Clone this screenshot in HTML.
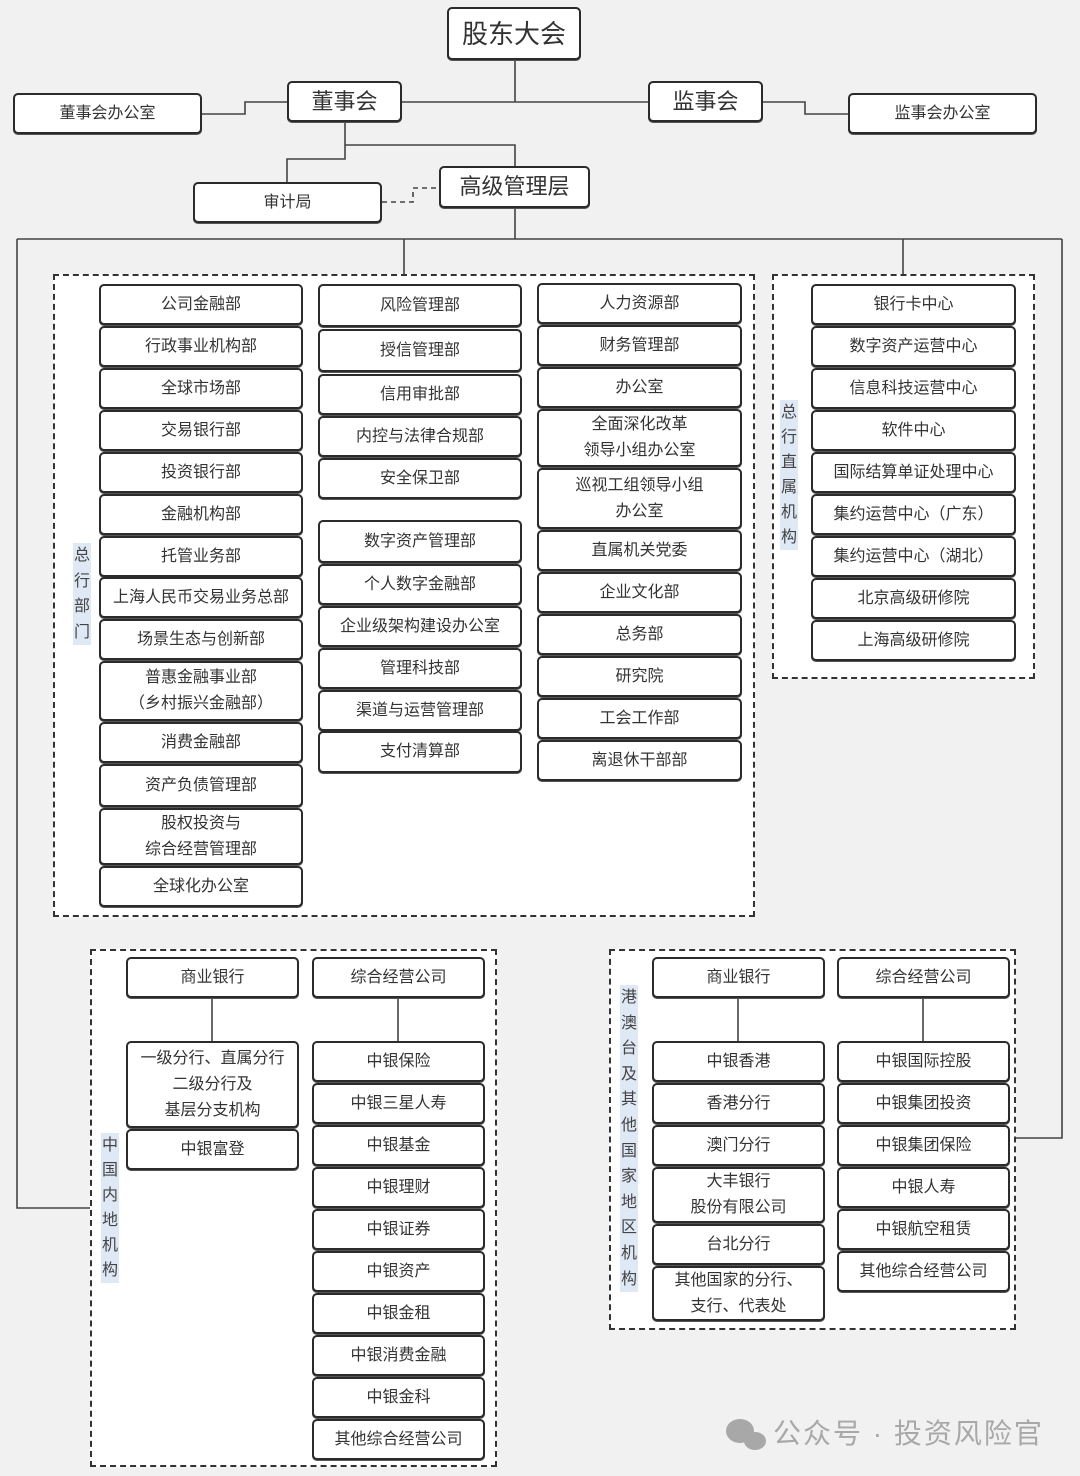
<!DOCTYPE html>
<html><head><meta charset="utf-8">
<style>
*{margin:0;padding:0}
body{width:1080px;height:1476px;background:#f1f1f1;position:relative;overflow:hidden;font-family:"Liberation Sans","Noto Sans CJK SC",sans-serif;color:#333}
.b{position:absolute;box-sizing:border-box;border:2px solid #2b2b2b;border-radius:5px;background:#fff;display:flex;align-items:center;justify-content:center;text-align:center;font-size:16px;line-height:26px;color:#333;box-shadow:0 1px 0 #555}
.d{position:absolute;box-sizing:border-box;border:2px dashed #333;background:#fff}
.v{position:absolute;width:18px;background:#dfe8f5;font-size:16px;text-align:center;color:#444}
svg{position:absolute;left:0;top:0}
</style></head><body>
<div class="d" style="left:53px;top:274px;width:702px;height:643px"></div>
<div class="d" style="left:772px;top:274px;width:263px;height:405px"></div>
<div class="d" style="left:90px;top:949px;width:407px;height:518px"></div>
<div class="d" style="left:609px;top:949px;width:407px;height:381px"></div>
<svg width="1080" height="1476" fill="none" stroke="#444" stroke-width="1.6">
<path d="M515 60V102M402 102H648M202 114H245V102H287M763 102H805V114H848"/>
<path d="M345 122V145H515V167M345 145V159H287V182"/>
<path d="M382 202H413V188H439" stroke-dasharray="5 4"/>
<path d="M515 208V239M17 239H1062M404 239V274M903 239V274M17 239V1208H90M1062 239V1138H1016"/>
<path d="M212 997V1041M398 997V1041M738 997V1041M923 997V1041"/>
</svg>
<div class="b" style="left:447px;top:7px;width:134px;height:53px;font-size:26px">股东大会</div>
<div class="b" style="left:287px;top:81px;width:115px;height:41px;font-size:22px">董事会</div>
<div class="b" style="left:648px;top:81px;width:115px;height:41px;font-size:22px">监事会</div>
<div class="b" style="left:13px;top:93px;width:189px;height:41px">董事会办公室</div>
<div class="b" style="left:848px;top:93px;width:189px;height:41px">监事会办公室</div>
<div class="b" style="left:193px;top:182px;width:189px;height:41px">审计局</div>
<div class="b" style="left:439px;top:166px;width:151px;height:42px;font-size:22px">高级管理层</div>

<div class="v" style="left:73px;top:543px;line-height:25.5px">总<br>行<br>部<br>门</div>
<div class="v" style="left:780px;top:400px;line-height:25px">总<br>行<br>直<br>属<br>机<br>构</div>
<div class="v" style="left:101px;top:1133px;line-height:25px">中<br>国<br>内<br>地<br>机<br>构</div>
<div class="v" style="left:620px;top:985px;line-height:25.6px">港<br>澳<br>台<br>及<br>其<br>他<br>国<br>家<br>地<br>区<br>机<br>构</div>

<div class="b" style="left:99px;top:284px;width:204px;height:41px">公司金融部</div>
<div class="b" style="left:99px;top:326px;width:204px;height:41px">行政事业机构部</div>
<div class="b" style="left:99px;top:368px;width:204px;height:41px">全球市场部</div>
<div class="b" style="left:99px;top:410px;width:204px;height:41px">交易银行部</div>
<div class="b" style="left:99px;top:452px;width:204px;height:41px">投资银行部</div>
<div class="b" style="left:99px;top:494px;width:204px;height:41px">金融机构部</div>
<div class="b" style="left:99px;top:536px;width:204px;height:41px">托管业务部</div>
<div class="b" style="left:99px;top:577px;width:204px;height:41px">上海人民币交易业务总部</div>
<div class="b" style="left:99px;top:619px;width:204px;height:41px">场景生态与创新部</div>
<div class="b" style="left:99px;top:661px;width:204px;height:60px">普惠金融事业部<br>（乡村振兴金融部）</div>
<div class="b" style="left:99px;top:722px;width:204px;height:41px">消费金融部</div>
<div class="b" style="left:99px;top:764px;width:204px;height:43px">资产负债管理部</div>
<div class="b" style="left:99px;top:808px;width:204px;height:57px">股权投资与<br>综合经营管理部</div>
<div class="b" style="left:99px;top:866px;width:204px;height:41px">全球化办公室</div>

<div class="b" style="left:318px;top:284px;width:204px;height:43px">风险管理部</div>
<div class="b" style="left:318px;top:329px;width:204px;height:43px">授信管理部</div>
<div class="b" style="left:318px;top:374px;width:204px;height:41px">信用审批部</div>
<div class="b" style="left:318px;top:416px;width:204px;height:41px">内控与法律合规部</div>
<div class="b" style="left:318px;top:458px;width:204px;height:41px">安全保卫部</div>
<div class="b" style="left:318px;top:520px;width:204px;height:43px">数字资产管理部</div>
<div class="b" style="left:318px;top:564px;width:204px;height:41px">个人数字金融部</div>
<div class="b" style="left:318px;top:606px;width:204px;height:41px">企业级架构建设办公室</div>
<div class="b" style="left:318px;top:648px;width:204px;height:41px">管理科技部</div>
<div class="b" style="left:318px;top:690px;width:204px;height:41px">渠道与运营管理部</div>
<div class="b" style="left:318px;top:731px;width:204px;height:42px">支付清算部</div>

<div class="b" style="left:537px;top:283px;width:205px;height:41px">人力资源部</div>
<div class="b" style="left:537px;top:325px;width:205px;height:41px">财务管理部</div>
<div class="b" style="left:537px;top:367px;width:205px;height:41px">办公室</div>
<div class="b" style="left:537px;top:409px;width:205px;height:58px">全面深化改革<br>领导小组办公室</div>
<div class="b" style="left:537px;top:468px;width:205px;height:61px">巡视工组领导小组<br>办公室</div>
<div class="b" style="left:537px;top:530px;width:205px;height:41px">直属机关党委</div>
<div class="b" style="left:537px;top:572px;width:205px;height:41px">企业文化部</div>
<div class="b" style="left:537px;top:614px;width:205px;height:41px">总务部</div>
<div class="b" style="left:537px;top:656px;width:205px;height:41px">研究院</div>
<div class="b" style="left:537px;top:698px;width:205px;height:41px">工会工作部</div>
<div class="b" style="left:537px;top:740px;width:205px;height:41px">离退休干部部</div>

<div class="b" style="left:811px;top:284px;width:205px;height:41px">银行卡中心</div>
<div class="b" style="left:811px;top:326px;width:205px;height:41px">数字资产运营中心</div>
<div class="b" style="left:811px;top:368px;width:205px;height:41px">信息科技运营中心</div>
<div class="b" style="left:811px;top:410px;width:205px;height:41px">软件中心</div>
<div class="b" style="left:811px;top:452px;width:205px;height:41px">国际结算单证处理中心</div>
<div class="b" style="left:811px;top:494px;width:205px;height:41px">集约运营中心（广东）</div>
<div class="b" style="left:811px;top:536px;width:205px;height:41px">集约运营中心（湖北）</div>
<div class="b" style="left:811px;top:578px;width:205px;height:41px">北京高级研修院</div>
<div class="b" style="left:811px;top:620px;width:205px;height:41px">上海高级研修院</div>

<div class="b" style="left:126px;top:957px;width:173px;height:41px">商业银行</div>
<div class="b" style="left:312px;top:957px;width:173px;height:41px">综合经营公司</div>
<div class="b" style="left:126px;top:1041px;width:173px;height:87px">一级分行、直属分行<br>二级分行及<br>基层分支机构</div>
<div class="b" style="left:126px;top:1129px;width:173px;height:41px">中银富登</div>
<div class="b" style="left:312px;top:1041px;width:173px;height:41px">中银保险</div>
<div class="b" style="left:312px;top:1083px;width:173px;height:41px">中银三星人寿</div>
<div class="b" style="left:312px;top:1125px;width:173px;height:41px">中银基金</div>
<div class="b" style="left:312px;top:1167px;width:173px;height:41px">中银理财</div>
<div class="b" style="left:312px;top:1209px;width:173px;height:41px">中银证券</div>
<div class="b" style="left:312px;top:1251px;width:173px;height:41px">中银资产</div>
<div class="b" style="left:312px;top:1293px;width:173px;height:41px">中银金租</div>
<div class="b" style="left:312px;top:1335px;width:173px;height:41px">中银消费金融</div>
<div class="b" style="left:312px;top:1377px;width:173px;height:41px">中银金科</div>
<div class="b" style="left:312px;top:1419px;width:173px;height:41px">其他综合经营公司</div>

<div class="b" style="left:652px;top:957px;width:173px;height:41px">商业银行</div>
<div class="b" style="left:837px;top:957px;width:173px;height:41px">综合经营公司</div>
<div class="b" style="left:652px;top:1041px;width:173px;height:41px">中银香港</div>
<div class="b" style="left:652px;top:1083px;width:173px;height:41px">香港分行</div>
<div class="b" style="left:652px;top:1125px;width:173px;height:41px">澳门分行</div>
<div class="b" style="left:652px;top:1167px;width:173px;height:56px">大丰银行<br>股份有限公司</div>
<div class="b" style="left:652px;top:1224px;width:173px;height:41px">台北分行</div>
<div class="b" style="left:652px;top:1266px;width:173px;height:55px">其他国家的分行、<br>支行、代表处</div>
<div class="b" style="left:837px;top:1041px;width:173px;height:41px">中银国际控股</div>
<div class="b" style="left:837px;top:1083px;width:173px;height:41px">中银集团投资</div>
<div class="b" style="left:837px;top:1125px;width:173px;height:41px">中银集团保险</div>
<div class="b" style="left:837px;top:1167px;width:173px;height:41px">中银人寿</div>
<div class="b" style="left:837px;top:1209px;width:173px;height:41px">中银航空租赁</div>
<div class="b" style="left:837px;top:1251px;width:173px;height:41px">其他综合经营公司</div>

<svg width="1080" height="1476" style="pointer-events:none">
<ellipse cx="740" cy="1431" rx="14" ry="12" fill="#a8a8a8"/>
<ellipse cx="755" cy="1441" rx="11" ry="9" fill="#a8a8a8"/>
</svg>
<div style="position:absolute;left:773px;top:1414px;font-size:28px;line-height:40px;color:#a8a8a8;white-space:nowrap;letter-spacing:2px">公众号 · 投资风险官</div>
</body></html>
